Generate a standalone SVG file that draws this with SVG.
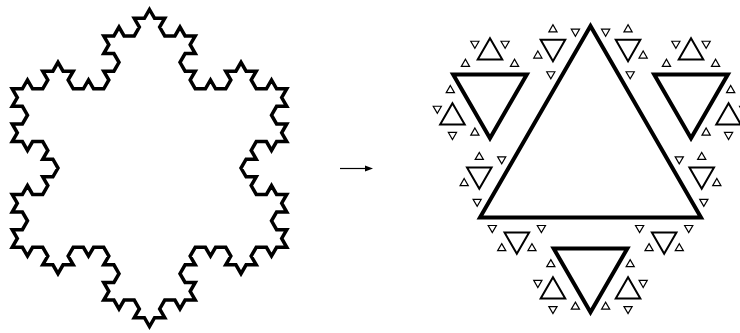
<svg xmlns="http://www.w3.org/2000/svg" width="740" height="333" viewBox="0 0 740 333">
<style>
.k{fill:none;stroke:#000;stroke-width:3.5;stroke-linejoin:miter}
.t0{fill:none;stroke:#000;stroke-width:4;stroke-linejoin:miter}
.t1{fill:none;stroke:#000;stroke-width:4;stroke-linejoin:miter}
.t2{fill:none;stroke:#000;stroke-width:2;stroke-linejoin:miter}
.t3{fill:none;stroke:#000;stroke-width:1.2;stroke-linejoin:miter}
.arr{stroke:#000;stroke-width:1.2}
</style>
<defs>
<g id="d3"><polygon class="t3" points="8.185,8 16.370,8 12.278,15.089"/></g>
<g id="d2">
<polygon class="t2" points="24.556,15 49.111,15 36.833,36.266"/>
<use href="#d3"/>
<use href="#d3" transform="translate(24.556,15) rotate(60)"/>
<use href="#d3" transform="translate(36.833,36.266) rotate(-60)"/>
<use href="#d3" transform="translate(49.111,0)"/>
</g>
<g id="d1">
<polygon class="t1" points="73.667,31 147.333,31 110.5,94.797"/>
<use href="#d2"/>
<use href="#d2" transform="translate(73.667,31) rotate(60)"/>
<use href="#d2" transform="translate(110.5,94.797) rotate(-60)"/>
<use href="#d2" transform="translate(147.333,0)"/>
</g>
</defs>
<g id="koch-snowflake">
<path class="k" d="M149.5 9.5 l
5.084 8.806 10.168 0 -5.084 8.806 5.084 8.806
10.168 0 5.084 -8.806 5.084 8.806 10.168 0
-5.084 8.806 5.084 8.806 -10.168 0 -5.084 8.806
5.084 8.806 10.168 0 -5.084 8.806 5.084 8.806
10.168 0 5.084 -8.806 5.084 8.806 10.168 0
5.084 -8.806 -5.084 -8.806 10.168 0 5.084 -8.806
5.084 8.806 10.168 0 -5.084 8.806 5.084 8.806
10.168 0 5.084 -8.806 5.084 8.806 10.168 0
-5.084 8.806 5.084 8.806 -10.168 0 -5.084 8.806
5.084 8.806 10.168 0 -5.084 8.806 5.084 8.806
-10.168 0 -5.084 8.806 -5.084 -8.806 -10.168 0
-5.084 8.806 5.084 8.806 -10.168 0 -5.084 8.806
5.084 8.806 10.168 0 -5.084 8.806 5.084 8.806
10.168 0 5.084 -8.806 5.084 8.806 10.168 0
-5.084 8.806 5.084 8.806 -10.168 0 -5.084 8.806
5.084 8.806 10.168 0 -5.084 8.806 5.084 8.806
-10.168 0 -5.084 8.806 -5.084 -8.806 -10.168 0
-5.084 8.806 5.084 8.806 -10.168 0 -5.084 8.806
-5.084 -8.806 -10.168 0 5.084 -8.806 -5.084 -8.806
-10.168 0 -5.084 8.806 -5.084 -8.806 -10.168 0
-5.084 8.806 5.084 8.806 -10.168 0 -5.084 8.806
5.084 8.806 10.168 0 -5.084 8.806 5.084 8.806
-10.168 0 -5.084 8.806 -5.084 -8.806 -10.168 0
-5.084 8.806 5.084 8.806 -10.168 0 -5.084 8.806
-5.084 -8.806 -10.168 0 5.084 -8.806 -5.084 -8.806
-10.168 0 -5.084 8.806 -5.084 -8.806 -10.168 0
5.084 -8.806 -5.084 -8.806 10.168 0 5.084 -8.806
-5.084 -8.806 -10.168 0 5.084 -8.806 -5.084 -8.806
-10.168 0 -5.084 8.806 -5.084 -8.806 -10.168 0
-5.084 8.806 5.084 8.806 -10.168 0 -5.084 8.806
-5.084 -8.806 -10.168 0 5.084 -8.806 -5.084 -8.806
-10.168 0 -5.084 8.806 -5.084 -8.806 -10.168 0
5.084 -8.806 -5.084 -8.806 10.168 0 5.084 -8.806
-5.084 -8.806 -10.168 0 5.084 -8.806 -5.084 -8.806
10.168 0 5.084 -8.806 5.084 8.806 10.168 0
5.084 -8.806 -5.084 -8.806 10.168 0 5.084 -8.806
-5.084 -8.806 -10.168 0 5.084 -8.806 -5.084 -8.806
-10.168 0 -5.084 8.806 -5.084 -8.806 -10.168 0
5.084 -8.806 -5.084 -8.806 10.168 0 5.084 -8.806
-5.084 -8.806 -10.168 0 5.084 -8.806 -5.084 -8.806
10.168 0 5.084 -8.806 5.084 8.806 10.168 0
5.084 -8.806 -5.084 -8.806 10.168 0 5.084 -8.806
5.084 8.806 10.168 0 -5.084 8.806 5.084 8.806
10.168 0 5.084 -8.806 5.084 8.806 10.168 0
5.084 -8.806 -5.084 -8.806 10.168 0 5.084 -8.806
-5.084 -8.806 -10.168 0 5.084 -8.806 -5.084 -8.806
10.168 0 5.084 -8.806 5.084 8.806 10.168 0
5.084 -8.806 -5.084 -8.806 10.168 0 5.084 -8.806 z"/>
</g>
<g id="connectors">
<line class="arr" x1="340" y1="168.5" x2="367" y2="168.5"/>
<polygon points="373,168.5 365,165.5 365,171.5" fill="#000"/>
</g>
<g id="decomposition">
<polygon class="t0" points="590.5,26.108 701,217.5 480,217.5"/>
<use href="#d1" transform="translate(480,217.5)"/>
<use href="#d1" transform="translate(701,217.5) rotate(-120)"/>
<use href="#d1" transform="translate(590.5,26.108) rotate(120)"/>
</g>
</svg>
